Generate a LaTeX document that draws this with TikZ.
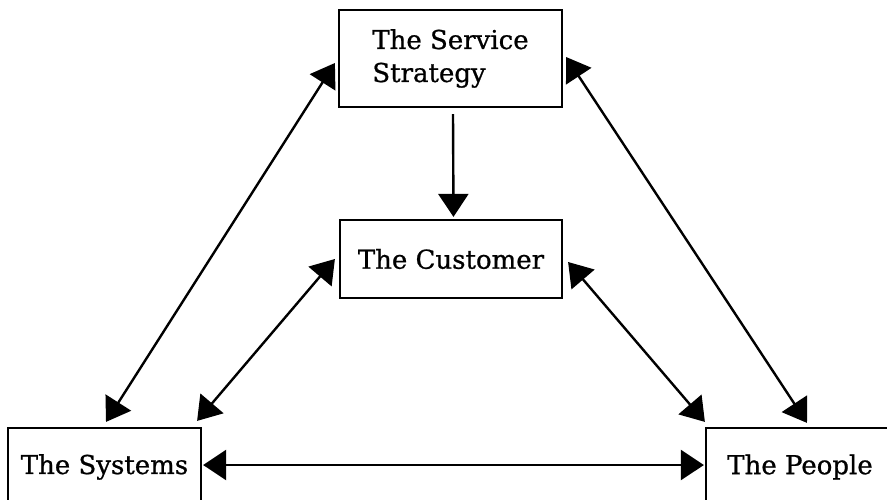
\documentclass[tikz,border=0pt]{standalone}
\usepackage{fontspec}
\setmainfont{DejaVu Serif}[FakeBold=0.8]
\usetikzlibrary{arrows.meta}
\begin{document}
\begin{tikzpicture}[x=1pt,y=-1pt,
  box/.style={draw,line width=2.2pt,inner sep=0pt,font=\fontsize{26}{33}\selectfont},
  conn/.style={line width=2.4pt,{Triangle[length=23pt,width=30pt]}-{Triangle[length=23pt,width=30pt]}},
  oneway/.style={line width=2.4pt,-{Triangle[length=23pt,width=30pt]}}]
\clip (0,0) rectangle (887,499);
\useasboundingbox (0,0) rectangle (887,499);
\fill[white] (0,0) rectangle (887,499);
\node[box,minimum width=223pt,minimum height=97pt,align=left] (ss) at (450.5,58.5) {The Service\\Strategy};
\node[box,minimum width=222pt,minimum height=78pt] (cu) at (451,259) {The Customer};
\node[box,minimum width=193pt,minimum height=78pt] (sy) at (104.5,467) {The Systems};
\node[box,minimum width=188pt,minimum height=78pt] (pe) at (800,467) {The People};
\draw[oneway] ([shift={(2.5,6)}]ss.south) -- ([shift={(2.5,-2)}]cu.north);
\draw[conn] ([shift={(-3,4.5)}]ss.west) -- ([shift={(1.5,-5)}]sy.north);
\draw[conn] ([shift={(3,-1.5)}]ss.east) -- ([shift={(7,-4)}]pe.north);
\draw[conn] ([shift={(-4,0)}]cu.west) -- ([shift={(-5,-6)}]sy.north east);
\draw[conn] ([shift={(5,3)}]cu.east) -- ([shift={(0,-5)}]pe.north west);
\draw[conn] ([shift={(1,-2)}]sy.east) -- ([shift={(-1,-2)}]pe.west);
\end{tikzpicture}
\end{document}
